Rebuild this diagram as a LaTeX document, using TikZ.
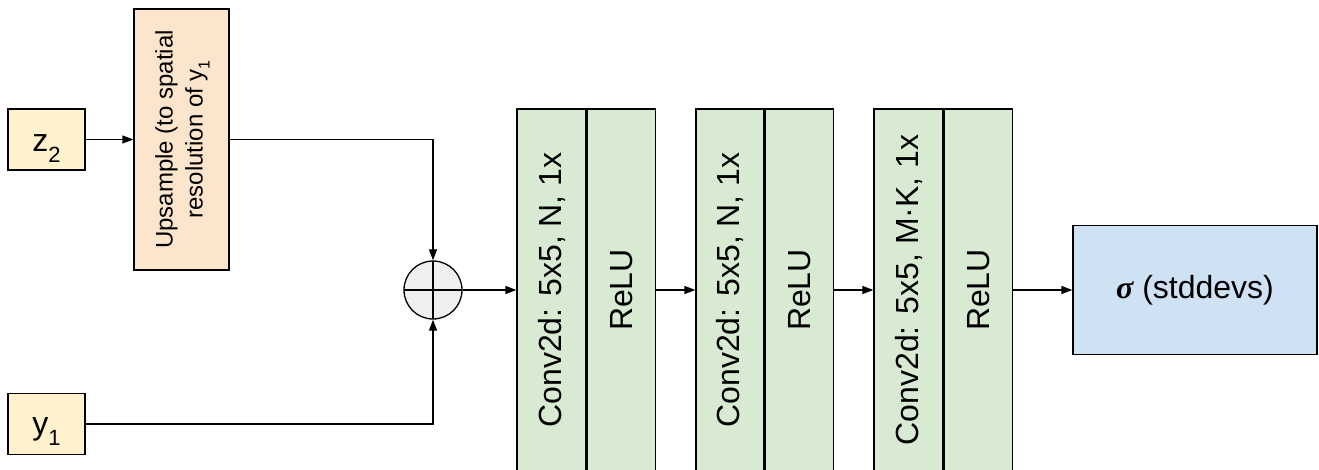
\documentclass[tikz,border=0pt]{standalone}
\usepackage{fontspec}
\setmainfont{Liberation Sans}
\newfontfamily\sigmafont{Liberation Serif}
\usetikzlibrary{arrows.meta}

\definecolor{inyellow}{HTML}{FFF2CC}
\definecolor{uporange}{HTML}{FCE5CD}
\definecolor{convgreen}{HTML}{D9EAD3}
\definecolor{outblue}{HTML}{CFE2F3}
\definecolor{sumgray}{HTML}{EFEFEF}

% lowered, smaller digit used as a subscript
\newcommand{\subdigit}[3]{\raisebox{-#1}{\fontsize{#2}{#2}\selectfont #3}}

\begin{document}
\begin{tikzpicture}[x=1pt,y=-1pt,
  box/.style={draw=black,line width=1.3pt,inner sep=0pt,
    font=\fontsize{32}{38}\selectfont},
  inbox/.style={box,fill=inyellow,minimum width=77pt,minimum height=61pt},
  convbox/.style={box,fill=convgreen,minimum height=362pt},
  link/.style={line width=1.3pt,-{Triangle[length=11pt,width=8pt]}},
  sumnode/.style={draw=black,circle,fill=sumgray,line width=1.3pt,
    minimum size=58pt,inner sep=0pt,
    path picture={\draw[line width=1.3pt]
      (path picture bounding box.north) -- (path picture bounding box.south)
      (path picture bounding box.west) -- (path picture bounding box.east);}}]
\clip (0,0) rectangle (1319,470);

% inputs
\node[inbox,text height=31pt,text depth=6pt] (z2) at (46.5,139.5)
  {z\subdigit{11pt}{22}{2}};
\node[inbox,text height=28pt,text depth=8pt] (y1) at (46.5,424)
  {y\subdigit{11pt}{22}{1}};

% upsampling of z2
\node[box,fill=uporange,minimum width=95pt,minimum height=261pt] (up)
  at (181.5,139.5)
  {\rotatebox{90}{\fontsize{24}{30}\selectfont
   \begin{tabular}{@{}c@{}}Upsample (to spatial\\
   resolution of y\subdigit{7pt}{16}{1}\end{tabular}}};

% sum
\node[sumnode] (sum) at (433,290) {};

% convolution blocks
\node[convbox,minimum width=69pt] (c1a) at (551.5,290)
  {\rotatebox{90}{Conv2d: 5x5, N, 1x}};
\node[convbox,minimum width=68pt,anchor=west] (c1b) at (c1a.east)
  {\rotatebox{90}{ReLU}};
\node[convbox,minimum width=68pt] (c2a) at (730,290)
  {\rotatebox{90}{Conv2d: 5x5, N, 1x}};
\node[convbox,minimum width=68pt,anchor=west] (c2b) at (c2a.east)
  {\rotatebox{90}{ReLU}};
\node[convbox,minimum width=69pt] (c3a) at (908.5,290)
  {\rotatebox{90}{Conv2d: 5x5, M·K, 1x}};
\node[convbox,minimum width=68pt,anchor=west] (c3b) at (c3a.east)
  {\rotatebox{90}{ReLU}};

% output
\node[box,fill=outblue,minimum width=244pt,minimum height=129pt] (out)
  at (1195,290) {{\sigmafont\bfseries\itshape σ} (stddevs)};

% connectors
\draw[link] (z2) -- (up);
\draw[link] (up.east) -| (sum.north);
\draw[link] (y1.east) -| (sum.south);
\draw[link] (sum) -- (c1a);
\draw[link] (c1b) -- (c2a);
\draw[link] (c2b) -- (c3a);
\draw[link] (c3b) -- (out);
\end{tikzpicture}
\end{document}
